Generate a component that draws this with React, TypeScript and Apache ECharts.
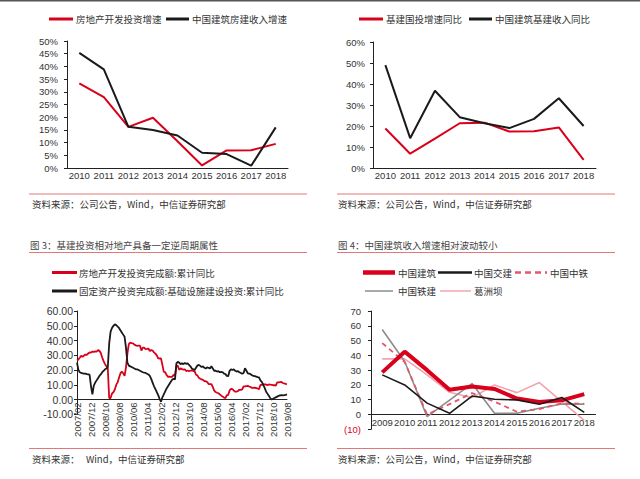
import React, { useEffect, useRef } from 'react';
import * as echarts from 'echarts';

// ---------- Data ----------
const yearsA = ['2010', '2011', '2012', '2013', '2014', '2015', '2016', '2017', '2018'];
const reInvestGrowth = [33.3, 27.9, 16.2, 19.8, 10.5, 1.0, 6.9, 7.0, 9.5];
const cscecHousingRev = [45.3, 38.8, 16.2, 15.0, 12.8, 6.0, 5.5, 0.9, 16.0];
const infraInvestGrowth = [18.8, 6.8, 14.0, 21.3, 21.6, 17.4, 17.5, 19.3, 3.9];
const cscecInfraRev = [49.0, 14.2, 36.8, 24.2, 21.3, 19.0, 23.4, 33.2, 20.0];

// monthly, 2007/02 .. 2019/08
const reMonthly = [
  26.5, 27.2, 28.3, 29.7, 29.0, 29.8, 30.5, 30.3, 31.2, 32.0, 31.8,
  32.5, 32.3, 32.6, 32.4, 33.5, 33.0, 31.5, 28.5, 26.0, 24.0, 22.5, 21.0,
  1.0, 1.0, 4.1, 4.9, 6.8, 9.9, 11.6, 14.7, 17.7, 18.9, 17.8, 16.1,
  22.0, 31.1, 37.5, 38.5, 38.2, 38.1, 37.2, 36.7, 36.4, 36.5, 36.5, 33.2,
  35.2, 35.2, 34.1, 34.3, 34.6, 32.9, 33.6, 33.2, 32.0, 31.1, 29.9, 27.9,
  27.8, 27.8, 23.5, 18.7, 18.5, 16.6, 15.4, 15.6, 15.4, 15.4, 16.7, 16.2,
  22.8, 22.8, 20.2, 21.1, 20.6, 20.3, 20.5, 19.3, 19.7, 19.2, 19.5, 19.8,
  19.3, 19.3, 16.8, 16.4, 14.7, 14.1, 13.7, 13.2, 12.5, 12.4, 11.9, 10.5,
  10.4, 10.4, 8.5, 6.0, 5.1, 4.6, 4.3, 3.5, 2.6, 2.0, 1.3, 1.0,
  3.0, 3.0, 6.2, 7.2, 7.0, 6.1, 5.3, 5.4, 5.8, 6.6, 6.5, 6.9,
  8.9, 8.9, 9.1, 9.3, 8.8, 8.5, 7.9, 7.9, 8.1, 7.8, 7.5, 7.0,
  9.9, 9.9, 10.4, 10.3, 10.2, 9.7, 10.2, 10.1, 9.9, 9.7, 9.7, 9.5,
  11.6, 11.6, 11.8, 11.9, 11.2, 10.9, 10.6, 10.5,
];
const infraMonthly = [
  25.0, 20.0, 18.5, 18.0, 17.8, 17.5, 17.6, 17.2, 17.0, 16.8, 9.0,
  3.5, 9.5, 11.5, 13.0, 14.5, 16.0, 17.0, 18.5, 19.5, 20.5, 21.0, 22.0,
  38.0, 46.0, 48.5, 50.0, 51.0, 50.5, 49.5, 48.5, 47.0, 45.5, 44.0, 42.5,
  35.0, 25.0, 23.0, 22.5, 22.0, 21.5, 21.0, 20.5, 20.5, 20.0, 19.5, 19.0,
  18.5, 18.2, 18.0, 17.5, 17.0, 16.0, 14.0, 11.5, 9.0, 7.0, 5.0, 3.0,
  0.5, -1.5, 1.5, 3.5, 5.5, 7.5, 9.0, 10.5, 12.0, 13.5, 14.0, 13.7,
  24.5, 25.5, 25.0, 24.0, 24.5, 24.0, 24.8, 24.2, 24.5, 23.5, 22.5, 21.0,
  20.5, 20.0, 21.5, 23.0, 23.5, 22.8, 22.0, 22.5, 21.5, 21.0, 21.8, 21.5,
  21.0, 22.5, 21.0, 19.5, 19.5, 19.0, 19.2, 18.5, 18.8, 18.5, 17.5, 17.2,
  16.0, 15.8, 19.5, 20.5, 20.0, 20.5, 19.5, 19.0, 19.2, 18.5, 18.0, 17.5,
  18.0, 21.2, 19.5, 17.8, 17.5, 17.2, 16.5, 16.0, 15.8, 15.5, 15.2, 15.0,
  13.0, 12.0, 10.0, 8.0, 5.5, 4.0, 2.5, 1.0, 0.0, 0.5, 1.0, 1.5,
  2.0, 2.5, 2.8, 3.0, 2.8, 3.0, 3.2, 3.5,
];

const yearsB = ['2009', '2010', '2011', '2012', '2013', '2014', '2015', '2016', '2017', '2018'];
const cscecRev = [28.5, 42.5, 30.0, 16.8, 19.0, 17.3, 10.8, 8.5, 9.6, 13.8];
const ccccRev = [26.8, 20.0, 7.7, 0.8, 12.5, 10.3, 9.9, 6.9, 11.5, 1.5];
const crecRev = [48.3, 35.5, 0.0, 7.0, 14.5, 8.7, 1.9, 3.7, 7.6, 7.3];
const crccRev = [57.5, 35.8, -1.5, 9.8, 20.9, 0.8, 0.8, 4.2, 7.1, 7.0];
const gezhoubaRev = [37.6, 37.6, 26.8, 15.0, 11.4, 20.0, 14.8, 21.6, 8.7, -4.0];

function buildMonths(startYear: number, startMonth: number, count: number): string[] {
  const out: string[] = [];
  let y = startYear;
  let m = startMonth;
  for (let i = 0; i < count; i++) {
    out.push(`${y}/${m < 10 ? '0' + m : m}`);
    m++;
    if (m > 12) { m = 1; y++; }
  }
  return out;
}
const monthLabels = buildMonths(2007, 2, reMonthly.length);

// ---------- Styles ----------
const NUM_FONT = '"Liberation Sans", Arial, "Noto Sans CJK SC", sans-serif';
const CJK_FONT = '"Noto Sans CJK SC", "Liberation Sans", sans-serif';
const TEXT = '#333333';
const RED = '#d9001b';
const BLACK = '#1a1a1a';
const GRAY = '#8c8c8c';
const PINK = '#f3a3ad';
const DASHRED = '#e3566b';
const SEP = '#e07a7a';
const AXIS = '#222222';

function txt(x: number, y: number, text: string, size = 9.5, fill = TEXT) {
  return {
    type: 'text',
    x,
    y,
    style: { text, fontSize: size, fontFamily: CJK_FONT, fill, align: 'left', verticalAlign: 'middle' },
  };
}
function seg(x1: number, y: number, x2: number, stroke: string, lineWidth: number, lineDash?: number[]) {
  return {
    type: 'line',
    shape: { x1, y1: y, x2, y2: y },
    style: { stroke, lineWidth, lineDash: lineDash || null },
  };
}

function valueAxis(gridIndex: number, min: number, max: number, interval: number, formatter: any, margin: number, color: any = TEXT, fontSize = 9.5) {
  return {
    type: 'value',
    gridIndex,
    min,
    max,
    interval,
    axisLine: { show: true, lineStyle: { color: AXIS, width: 1 } },
    axisTick: { show: true, length: 3, lineStyle: { color: AXIS } },
    splitLine: { show: false },
    axisLabel: { formatter, margin, color, fontSize, fontFamily: NUM_FONT },
  };
}

// grid geometry (px)
const G2 = { left: 77, top: 311, width: 210, height: 103.3 };
const G3 = { left: 371, top: 311, width: 224.5, height: 118.3 };
const zeroOffset2 = -(G2.height * 10) / 70; // distance from bottom (-10) to 0
const zeroOffset3 = -(G3.height * 10) / 80;

export default function App() {
  const ref = useRef<HTMLDivElement>(null);

  useEffect(() => {
    if (!ref.current) return;
    const chart = echarts.init(ref.current, undefined, { renderer: 'svg' });

    const catAxisTop = (gridIndex: number, data: string[]) => ({
      type: 'category',
      gridIndex,
      data,
      boundaryGap: true,
      axisLine: { show: true, onZero: true, lineStyle: { color: AXIS, width: 1 } },
      axisTick: { show: false },
      axisLabel: { interval: 0, margin: 3, color: TEXT, fontSize: 9.5, fontFamily: NUM_FONT },
    });

    const option: any = {
      animation: false,
      backgroundColor: '#ffffff',
      grid: [
        { left: 67, top: 41, width: 221, height: 127, containLabel: false, outerBoundsMode: 'none' },
        { left: 373, top: 42, width: 223, height: 126, containLabel: false, outerBoundsMode: 'none' },
        { ...G2, containLabel: false, outerBoundsMode: 'none' },
        { ...G3, containLabel: false, outerBoundsMode: 'none' },
      ],
      xAxis: [
        catAxisTop(0, yearsA),
        catAxisTop(1, yearsA),
        {
          type: 'category',
          gridIndex: 2,
          data: monthLabels,
          boundaryGap: false,
          position: 'bottom',
          offset: zeroOffset2,
          axisLine: { show: true, onZero: false, lineStyle: { color: AXIS, width: 1 } },
          axisTick: { show: false },
          axisLabel: { interval: 9, rotate: 90, margin: 3, color: TEXT, fontSize: 9.5, fontFamily: NUM_FONT },
        },
        {
          type: 'category',
          gridIndex: 3,
          data: yearsB,
          boundaryGap: true,
          position: 'bottom',
          offset: zeroOffset3,
          axisLine: { show: true, onZero: false, lineStyle: { color: AXIS, width: 1 } },
          axisTick: { show: false },
          axisLabel: { interval: 0, margin: 3, color: TEXT, fontSize: 9.5, fontFamily: NUM_FONT },
        },
      ],
      yAxis: [
        valueAxis(0, 0, 50, 5, '{value}%', 9),
        valueAxis(1, 0, 60, 10, '{value}%', 8),
        valueAxis(2, -10, 60, 10, (v: number) => Number(v).toFixed(2), 4, TEXT, 10.5),
        valueAxis(
          3, -10, 70, 10,
          (v: number) => (Number(v) < 0 ? `(${Math.abs(Number(v))})` : String(v)),
          10,
          (v: any) => (Number(v) < 0 ? RED : TEXT),
          9.5,
        ),
      ],
      series: [
        { name: '房地产开发投资增速', type: 'line', xAxisIndex: 0, yAxisIndex: 0, data: reInvestGrowth, symbol: 'none', lineStyle: { color: RED, width: 2 }, itemStyle: { color: RED } },
        { name: '中国建筑房建收入增速', type: 'line', xAxisIndex: 0, yAxisIndex: 0, data: cscecHousingRev, symbol: 'none', lineStyle: { color: BLACK, width: 2 }, itemStyle: { color: BLACK } },
        { name: '基建国投增速同比', type: 'line', xAxisIndex: 1, yAxisIndex: 1, data: infraInvestGrowth, symbol: 'none', lineStyle: { color: RED, width: 2 }, itemStyle: { color: RED } },
        { name: '中国建筑基建收入同比', type: 'line', xAxisIndex: 1, yAxisIndex: 1, data: cscecInfraRev, symbol: 'none', lineStyle: { color: BLACK, width: 2 }, itemStyle: { color: BLACK } },
        { name: '房地产开发投资完成额:累计同比', type: 'line', xAxisIndex: 2, yAxisIndex: 2, data: reMonthly, symbol: 'none', lineStyle: { color: RED, width: 1.8 }, itemStyle: { color: RED } },
        { name: '固定资产投资完成额:基础设施建设投资:累计同比', type: 'line', xAxisIndex: 2, yAxisIndex: 2, data: infraMonthly, symbol: 'none', lineStyle: { color: BLACK, width: 1.8 }, itemStyle: { color: BLACK } },
        { name: '葛洲坝', type: 'line', xAxisIndex: 3, yAxisIndex: 3, data: gezhoubaRev, symbol: 'none', lineStyle: { color: PINK, width: 1.6 }, itemStyle: { color: PINK } },
        { name: '中国铁建', type: 'line', xAxisIndex: 3, yAxisIndex: 3, data: crccRev, symbol: 'none', lineStyle: { color: GRAY, width: 1.6 }, itemStyle: { color: GRAY } },
        { name: '中国中铁', type: 'line', xAxisIndex: 3, yAxisIndex: 3, data: crecRev, symbol: 'none', lineStyle: { color: DASHRED, width: 1.8, type: [5, 4] }, itemStyle: { color: DASHRED } },
        { name: '中国建筑', type: 'line', xAxisIndex: 3, yAxisIndex: 3, data: cscecRev, symbol: 'none', lineStyle: { color: RED, width: 4 }, itemStyle: { color: RED } },
        { name: '中国交建', type: 'line', xAxisIndex: 3, yAxisIndex: 3, data: ccccRev, symbol: 'none', lineStyle: { color: BLACK, width: 1.6 }, itemStyle: { color: BLACK } },
      ],
      graphic: [
        { type: 'rect', shape: { x: 0, y: 0, width: 640, height: 1.5 }, style: { fill: '#555555' } },
        // top-left legend
        seg(49, 19, 73, RED, 3),
        txt(76, 19, '房地产开发投资增速'),
        seg(166, 19, 189, BLACK, 3),
        txt(192, 19, '中国建筑房建收入增速'),
        // top-right legend
        seg(359, 19, 383, RED, 3),
        txt(386, 19, '基建国投增速同比'),
        seg(469, 19, 492, BLACK, 3),
        txt(495, 19, '中国建筑基建收入同比'),
        // separators and sources (top)
        seg(29, 194, 307, SEP, 1),
        txt(32, 203.5, '资料来源：公司公告，Wind，中信证券研究部', 9.5),
        seg(337, 194, 615, SEP, 1),
        txt(338, 203.5, '资料来源：公司公告，Wind，中信证券研究部', 9.5),
        // bottom-left
        txt(30, 245, '图 3：基建投资相对地产具备一定逆周期属性', 9.5, '#444444'),
        seg(29, 252.5, 307, SEP, 1),
        seg(52, 272.5, 77, RED, 3),
        txt(79, 272.5, '房地产开发投资完成额:累计同比'),
        seg(52, 291, 77, BLACK, 3),
        txt(79, 291, '固定资产投资完成额:基础设施建设投资:累计同比'),
        seg(29, 448.5, 307, SEP, 1),
        txt(32, 458.5, '资料来源：   Wind，中信证券研究部', 9.5),
        // bottom-right
        txt(338, 245, '图 4：中国建筑收入增速相对波动较小', 9.5, '#444444'),
        seg(337, 252.5, 615, SEP, 1),
        seg(363, 272.5, 395, RED, 4.5),
        txt(398, 272.5, '中国建筑'),
        seg(438, 272.5, 472, BLACK, 2.5),
        txt(474, 272.5, '中国交建'),
        seg(515, 272.5, 547, DASHRED, 2.5, [6, 4]),
        txt(550, 272.5, '中国中铁'),
        seg(365, 291, 393, GRAY, 1.5),
        txt(398, 291, '中国铁建'),
        seg(440, 291, 471, PINK, 1.5),
        txt(474, 291, '葛洲坝'),
        seg(337, 448.5, 615, SEP, 1),
        txt(338, 458.5, '资料来源：公司公告，Wind，中信证券研究部', 9.5),
      ],
    };

    chart.setOption(option);
    return () => {
      chart.dispose();
    };
  }, []);

  return (
    <div
      ref={ref}
      style={{ position: 'fixed', left: 0, top: 0, width: 640, height: 479, background: '#ffffff' }}
    />
  );
}
